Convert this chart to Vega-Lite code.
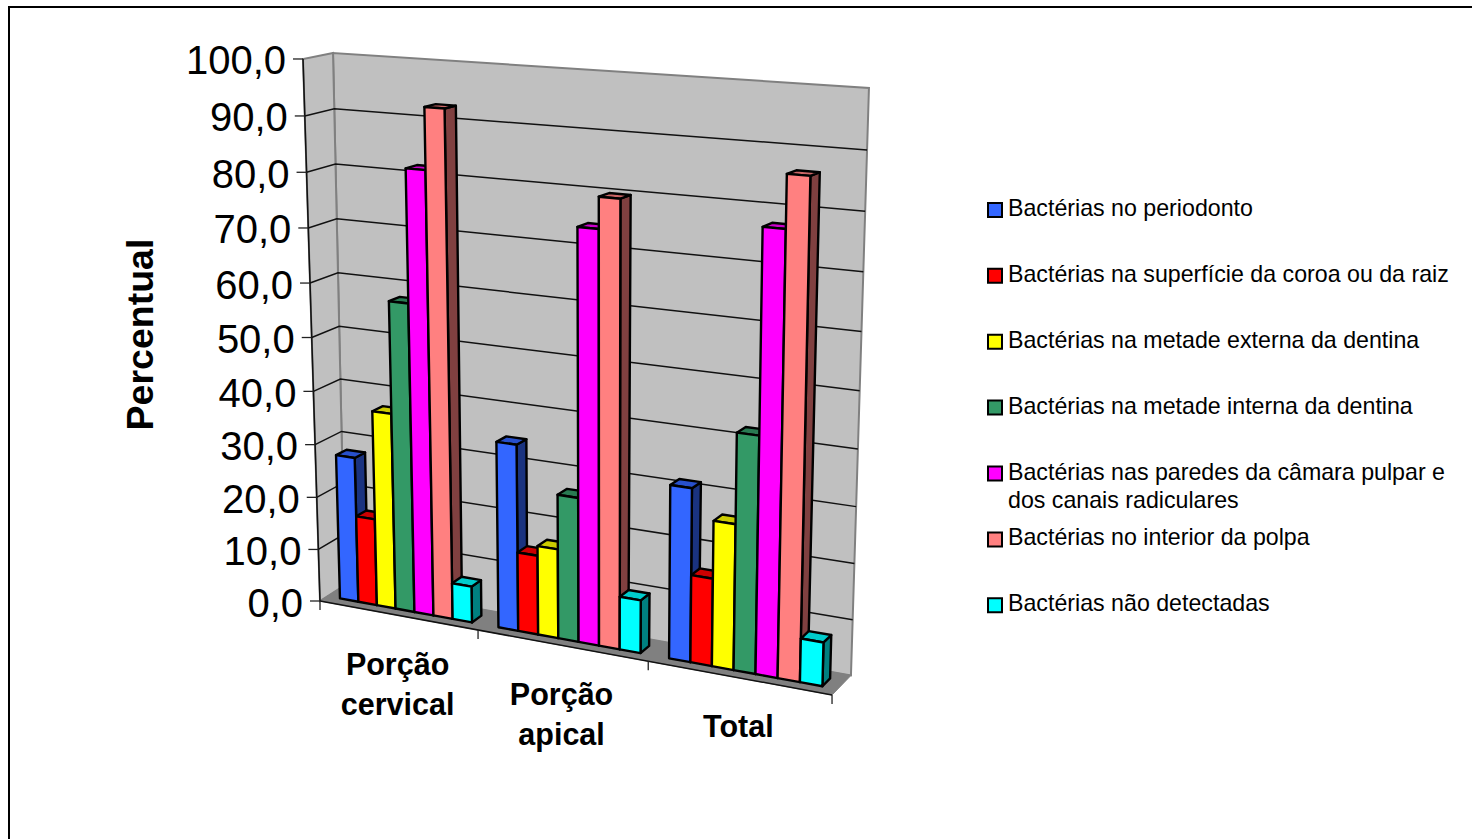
{
  "$schema": "https://vega.github.io/schema/vega-lite/v6.json",
  "width": 1464,
  "height": 834,
  "autosize": "none",
  "padding": {"left": 9, "top": 7, "right": 0, "bottom": 0},
  "background": "white",
  "config": {"view": {"stroke": "black", "strokeWidth": 2, "fill": "white"}, "text": {"font": "Liberation Sans"}},
  "datasets": {
    "barras": [
      {"porcao": "Porção cervical", "serie": "Bactérias no periodonto", "percentual": 27.6},
      {"porcao": "Porção cervical", "serie": "Bactérias na superfície da coroa ou da raiz", "percentual": 16.5},
      {"porcao": "Porção cervical", "serie": "Bactérias na metade externa da dentina", "percentual": 36.9},
      {"porcao": "Porção cervical", "serie": "Bactérias na metade interna da dentina", "percentual": 57.6},
      {"porcao": "Porção cervical", "serie": "Bactérias nas paredes da câmara pulpar e dos canais radiculares", "percentual": 81.7},
      {"porcao": "Porção cervical", "serie": "Bactérias no interior da polpa", "percentual": 92.7},
      {"porcao": "Porção cervical", "serie": "Bactérias não detectadas", "percentual": 6.8},
      {"porcao": "Porção apical", "serie": "Bactérias no periodonto", "percentual": 34.5},
      {"porcao": "Porção apical", "serie": "Bactérias na superfície da coroa ou da raiz", "percentual": 14.7},
      {"porcao": "Porção apical", "serie": "Bactérias na metade externa da dentina", "percentual": 16.5},
      {"porcao": "Porção apical", "serie": "Bactérias na metade interna da dentina", "percentual": 26.5},
      {"porcao": "Porção apical", "serie": "Bactérias nas paredes da câmara pulpar e dos canais radiculares", "percentual": 74.3},
      {"porcao": "Porção apical", "serie": "Bactérias no interior da polpa", "percentual": 79.8},
      {"porcao": "Porção apical", "serie": "Bactérias não detectadas", "percentual": 9.7},
      {"porcao": "Total", "serie": "Bactérias no periodonto", "percentual": 31.3},
      {"porcao": "Total", "serie": "Bactérias na superfície da coroa ou da raiz", "percentual": 15.8},
      {"porcao": "Total", "serie": "Bactérias na metade externa da dentina", "percentual": 26.1},
      {"porcao": "Total", "serie": "Bactérias na metade interna da dentina", "percentual": 42.1},
      {"porcao": "Total", "serie": "Bactérias nas paredes da câmara pulpar e dos canais radiculares", "percentual": 77.3},
      {"porcao": "Total", "serie": "Bactérias no interior da polpa", "percentual": 86.3},
      {"porcao": "Total", "serie": "Bactérias não detectadas", "percentual": 7.8}
    ],
    "series": [
      {"serie": "Bactérias no periodonto"},
      {"serie": "Bactérias na superfície da coroa ou da raiz"},
      {"serie": "Bactérias na metade externa da dentina"},
      {"serie": "Bactérias na metade interna da dentina"},
      {"serie": "Bactérias nas paredes da câmara pulpar e dos canais radiculares"},
      {"serie": "Bactérias no interior da polpa"},
      {"serie": "Bactérias não detectadas"}
    ],
    "categorias": [{"porcao": "Porção cervical"}, {"porcao": "Porção apical"}, {"porcao": "Total"}],
    "marcas": [{"tick": 0}, {"tick": 10}, {"tick": 20}, {"tick": 30}, {"tick": 40}, {"tick": 50}, {"tick": 60}, {"tick": 70}, {"tick": 80}, {"tick": 90}, {"tick": 100}],
    "divisas": [{"divisa": 0}, {"divisa": 1}, {"divisa": 2}, {"divisa": 3}],
    "planos": [{"plano": "fundo"}, {"plano": "lateral"}, {"plano": "piso"}],
    "eixos": [{"eixo": "valor"}, {"eixo": "categoria"}],
    "titulo": [{"titulo": "Percentual"}]
  },
  "encoding": {
    "x": {"field": "px", "type": "quantitative", "axis": null, "scale": {"domain": [9, 1473], "nice": false, "zero": false}},
    "y": {"field": "py", "type": "quantitative", "axis": null, "scale": {"domain": [7, 841], "reverse": true, "nice": false, "zero": false}}
  },
  "layer": [
    {
      "data": {"name": "planos"},
      "transform": [
        {"filter": "datum.plano != 'piso'"},
        {"calculate": "[0,1,2,3]", "as": "cantos"},
        {"flatten": ["cantos"], "as": ["canto"]},
        {"calculate": "datum.plano == 'fundo' ? (datum.canto == 1 || datum.canto == 2 ? 1 : 0) : 0", "as": "u"},
        {"calculate": "datum.canto >= 2 ? 1 : 0", "as": "v"},
        {"calculate": "datum.plano == 'fundo' ? 1 : (datum.canto == 1 || datum.canto == 2 ? 1 : 0)", "as": "w"},
        {"calculate": "(320+423*datum.u-33.36*datum.v+30.52*datum.w-0.4*datum.u*datum.v+3.2*datum.v*datum.w)/(1-0.107*datum.u-0.054*datum.v+0.016*datum.w)", "as": "px"},
        {"calculate": "(601+19.6*datum.u-545.2*datum.v-6.64*datum.w+4.6*datum.u*datum.v+1.8*datum.v*datum.w)/(1-0.107*datum.u-0.054*datum.v+0.016*datum.w)", "as": "py"}
      ],
      "mark": {"type": "line", "interpolate": "linear-closed", "fill": "#C0C0C0", "stroke": "#808080", "strokeWidth": 2},
      "encoding": {"detail": {"field": "plano"}, "order": {"field": "canto"}}
    },
    {
      "data": {"name": "planos"},
      "transform": [
        {"filter": "datum.plano == 'piso'"},
        {"calculate": "[0,1,2,3]", "as": "cantos"},
        {"flatten": ["cantos"], "as": ["canto"]},
        {"calculate": "datum.canto == 1 || datum.canto == 2 ? 1 : 0", "as": "u"},
        {"calculate": "0", "as": "v"},
        {"calculate": "datum.canto >= 2 ? 1 : 0", "as": "w"},
        {"calculate": "(320+423*datum.u-33.36*datum.v+30.52*datum.w-0.4*datum.u*datum.v+3.2*datum.v*datum.w)/(1-0.107*datum.u-0.054*datum.v+0.016*datum.w)", "as": "px"},
        {"calculate": "(601+19.6*datum.u-545.2*datum.v-6.64*datum.w+4.6*datum.u*datum.v+1.8*datum.v*datum.w)/(1-0.107*datum.u-0.054*datum.v+0.016*datum.w)", "as": "py"}
      ],
      "mark": {"type": "line", "interpolate": "linear-closed", "fill": "#808080", "stroke": "#808080", "strokeWidth": 1},
      "encoding": {"detail": {"field": "plano"}, "order": {"field": "canto"}}
    },
    {
      "data": {"name": "marcas"},
      "transform": [
        {"filter": "datum.tick > 0 && datum.tick < 100"},
        {"calculate": "[0,1,2]", "as": "cantos"},
        {"flatten": ["cantos"], "as": ["canto"]},
        {"calculate": "datum.canto == 2 ? 1 : 0", "as": "u"},
        {"calculate": "datum.tick / 100", "as": "v"},
        {"calculate": "datum.canto >= 1 ? 1 : 0", "as": "w"},
        {"calculate": "(320+423*datum.u-33.36*datum.v+30.52*datum.w-0.4*datum.u*datum.v+3.2*datum.v*datum.w)/(1-0.107*datum.u-0.054*datum.v+0.016*datum.w)", "as": "px"},
        {"calculate": "(601+19.6*datum.u-545.2*datum.v-6.64*datum.w+4.6*datum.u*datum.v+1.8*datum.v*datum.w)/(1-0.107*datum.u-0.054*datum.v+0.016*datum.w)", "as": "py"}
      ],
      "mark": {"type": "line", "stroke": "#111111", "strokeWidth": 1.5},
      "encoding": {"detail": {"field": "tick"}, "order": {"field": "canto"}}
    },
    {
      "data": {"name": "eixos"},
      "transform": [
        {"calculate": "[0,1]", "as": "cantos"},
        {"flatten": ["cantos"], "as": ["canto"]},
        {"calculate": "datum.eixo == 'categoria' ? datum.canto : 0", "as": "u"},
        {"calculate": "datum.eixo == 'valor' ? datum.canto : 0", "as": "v"},
        {"calculate": "(320+423*datum.u-33.36*datum.v-0.4*datum.u*datum.v)/(1-0.107*datum.u-0.054*datum.v)", "as": "px"},
        {"calculate": "(601+19.6*datum.u-545.2*datum.v+4.6*datum.u*datum.v)/(1-0.107*datum.u-0.054*datum.v)", "as": "py"}
      ],
      "mark": {"type": "line", "stroke": "#111111", "strokeWidth": 1.5},
      "encoding": {"detail": {"field": "eixo"}, "order": {"field": "canto"}}
    },
    {
      "data": {"name": "marcas"},
      "transform": [
        {"calculate": "datum.tick / 100", "as": "v"},
        {"calculate": "(320-33.36*datum.v)/(1-0.054*datum.v)", "as": "px"},
        {"calculate": "datum.px - 10", "as": "px0"},
        {"calculate": "(601-545.2*datum.v)/(1-0.054*datum.v)", "as": "py"}
      ],
      "mark": {"type": "rule", "stroke": "#222222", "strokeWidth": 1.3},
      "encoding": {"x": {"field": "px0", "type": "quantitative"}, "x2": {"field": "px"}}
    },
    {
      "data": {"name": "divisas"},
      "transform": [
        {"calculate": "datum.divisa / 3", "as": "u"},
        {"calculate": "(320+423*datum.u)/(1-0.107*datum.u)", "as": "px"},
        {"calculate": "(601+19.6*datum.u)/(1-0.107*datum.u)", "as": "py"},
        {"calculate": "datum.py + 9", "as": "py1"}
      ],
      "mark": {"type": "rule", "stroke": "#222222", "strokeWidth": 1.3},
      "encoding": {"y2": {"field": "py1"}}
    },
    {
      "data": {"name": "barras"},
      "transform": [
        {"window": [{"op": "row_number", "as": "nSerie"}], "groupby": ["porcao"]},
        {"window": [{"op": "row_number", "as": "nGrupo"}], "groupby": ["serie"]},
        {"calculate": "(datum.nGrupo - 1) / 3 + 0.0271 + (datum.nSerie - 1) * 0.0399", "as": "u0"},
        {"calculate": "datum.u0 + 0.0399", "as": "u1"},
        {"calculate": "['lateral','topo','frente']", "as": "faces"},
        {"flatten": ["faces"], "as": ["face"]},
        {"calculate": "[0,1,2,3]", "as": "cantos"},
        {"flatten": ["cantos"], "as": ["canto"]},
        {"calculate": "datum.face == 'lateral' || datum.canto == 1 || datum.canto == 2 ? datum.u1 : datum.u0", "as": "u"},
        {"calculate": "datum.face == 'topo' || datum.canto >= 2 ? datum.percentual / 100 : 0", "as": "v"},
        {"calculate": "datum.face == 'frente' ? 0.3 : datum.face == 'topo' ? (datum.canto >= 2 ? 0.7 : 0.3) : (datum.canto == 1 || datum.canto == 2 ? 0.7 : 0.3)", "as": "w"},
        {"calculate": "(320+423*datum.u-33.36*datum.v+30.52*datum.w-0.4*datum.u*datum.v+3.2*datum.v*datum.w)/(1-0.107*datum.u-0.054*datum.v+0.016*datum.w)", "as": "px"},
        {"calculate": "(601+19.6*datum.u-545.2*datum.v-6.64*datum.w+4.6*datum.u*datum.v+1.8*datum.v*datum.w)/(1-0.107*datum.u-0.054*datum.v+0.016*datum.w)", "as": "py"},
        {"calculate": "(datum.nSerie - 1) + datum.face", "as": "tom"},
        {"calculate": "datum.porcao + datum.nSerie + datum.face", "as": "chave"}
      ],
      "mark": {"type": "line", "interpolate": "linear-closed", "stroke": "black", "strokeWidth": 2.4, "strokeJoin": "round"},
      "encoding": {
        "detail": {"field": "chave"},
        "order": {"field": "canto"},
        "fill": {
          "field": "tom", "type": "nominal", "legend": null,
          "scale": {
            "domain": ["0frente", "0topo", "0lateral", "1frente", "1topo", "1lateral", "2frente", "2topo", "2lateral", "3frente", "3topo", "3lateral", "4frente", "4topo", "4lateral", "5frente", "5topo", "5lateral", "6frente", "6topo", "6lateral"],
            "range": ["#3366FF", "#2850CC", "#1A3380", "#FF0000", "#CC0000", "#800000", "#FFFF00", "#CCCC00", "#808000", "#339966", "#297A52", "#1A4D33", "#FF00FF", "#CC00CC", "#800080", "#FF8080", "#CC6666", "#804040", "#00FFFF", "#00CCCC", "#008080"]
          }
        }
      }
    },
    {
      "data": {"name": "marcas"},
      "transform": [
        {"calculate": "datum.tick / 100", "as": "v"},
        {"calculate": "(320-33.36*datum.v)/(1-0.054*datum.v)", "as": "px"},
        {"calculate": "(601-545.2*datum.v)/(1-0.054*datum.v)", "as": "py"},
        {"calculate": "replace(format(datum.tick, '.1f'), '.', ',')", "as": "rotulo"}
      ],
      "mark": {"type": "text", "align": "right", "baseline": "middle", "dx": -17, "dy": 3.5, "fontSize": 40, "font": "Liberation Sans", "fill": "black"},
      "encoding": {"text": {"field": "rotulo"}}
    },
    {
      "data": {"name": "categorias"},
      "transform": [
        {"window": [{"op": "row_number", "as": "n"}]},
        {"calculate": "(datum.n - 0.5) / 3", "as": "u"},
        {"calculate": "(320+423*datum.u)/(1-0.107*datum.u)", "as": "px"},
        {"calculate": "(601+19.6*datum.u)/(1-0.107*datum.u) + 50.5", "as": "py"},
        {"calculate": "replace(datum.porcao, 'Porção ', 'Porção|')", "as": "rotulo"}
      ],
      "mark": {"type": "text", "align": "center", "baseline": "middle", "lineBreak": "|", "lineHeight": 40, "fontSize": 30.5, "fontWeight": "bold", "font": "Liberation Sans", "fill": "black"},
      "encoding": {"text": {"field": "rotulo"}}
    },
    {
      "data": {"name": "titulo"},
      "transform": [
        {"calculate": "(320-33.36*0.5)/(1-0.054*0.5) - 170", "as": "px"},
        {"calculate": "(601-545.2*0.5)/(1-0.054*0.5) - 3", "as": "py"}
      ],
      "mark": {"type": "text", "align": "center", "baseline": "middle", "angle": 270, "fontSize": 37.5, "fontWeight": "bold", "font": "Liberation Sans", "fill": "black"},
      "encoding": {"text": {"field": "titulo"}}
    },
    {
      "data": {"name": "series"},
      "transform": [
        {"window": [{"op": "row_number", "as": "n"}]},
        {"calculate": "995", "as": "px"},
        {"calculate": "144 + 65.9 * datum.n", "as": "py"},
        {"calculate": "(datum.n - 1) + 'frente'", "as": "tom"}
      ],
      "mark": {"type": "point", "shape": "square", "size": 196, "filled": true, "stroke": "black", "strokeWidth": 2, "opacity": 1},
      "encoding": {
        "fill": {
          "field": "tom", "type": "nominal", "legend": null,
          "scale": {
            "domain": ["0frente", "0topo", "0lateral", "1frente", "1topo", "1lateral", "2frente", "2topo", "2lateral", "3frente", "3topo", "3lateral", "4frente", "4topo", "4lateral", "5frente", "5topo", "5lateral", "6frente", "6topo", "6lateral"],
            "range": ["#3366FF", "#2850CC", "#1A3380", "#FF0000", "#CC0000", "#800000", "#FFFF00", "#CCCC00", "#808000", "#339966", "#297A52", "#1A4D33", "#FF00FF", "#CC00CC", "#800080", "#FF8080", "#CC6666", "#804040", "#00FFFF", "#00CCCC", "#008080"]
          }
        }
      }
    },
    {
      "data": {"name": "series"},
      "transform": [
        {"window": [{"op": "row_number", "as": "n"}]},
        {"calculate": "1008", "as": "px"},
        {"calculate": "150 + 65.9 * datum.n", "as": "py"},
        {"calculate": "replace(datum.serie, 'pulpar e dos', 'pulpar e|dos')", "as": "rotulo"}
      ],
      "mark": {"type": "text", "align": "left", "baseline": "alphabetic", "lineBreak": "|", "lineHeight": 28, "fontSize": 23.2, "font": "Liberation Sans", "fill": "black"},
      "encoding": {"text": {"field": "rotulo"}}
    }
  ]
}
